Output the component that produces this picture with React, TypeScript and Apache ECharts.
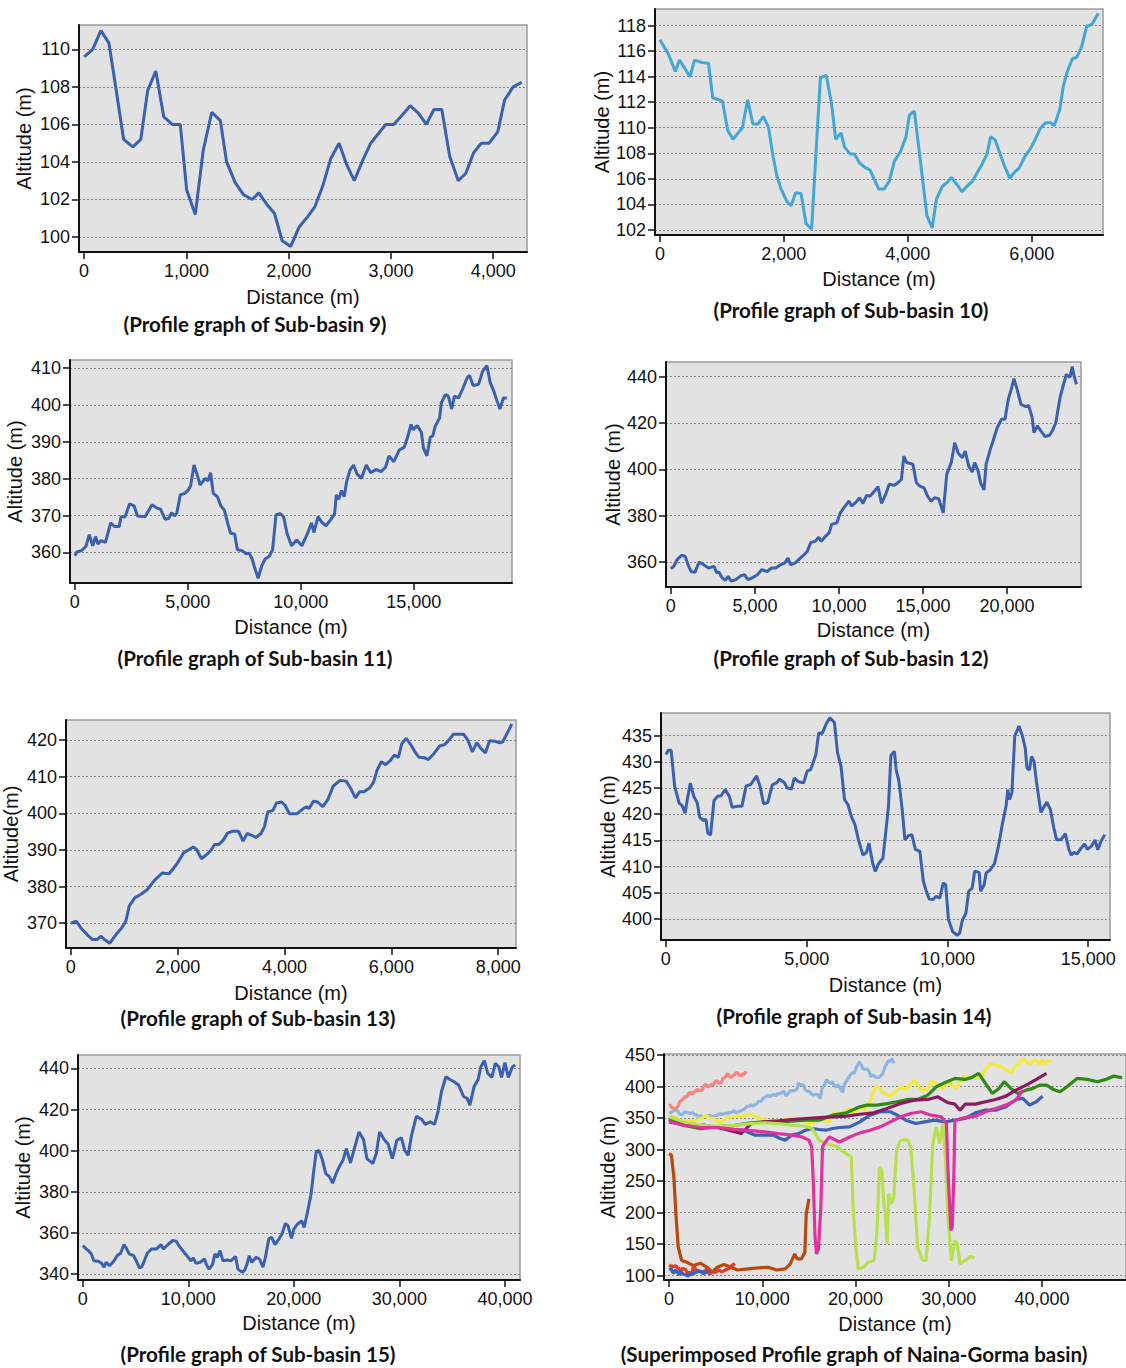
import React, { useEffect, useRef } from "react";
import * as echarts from "echarts";

// ---- Profile data: [distance (m), altitude (m)] ----
const sb9Profile = [
  [0, 109.6], [84, 110.0], [164, 111.0], [242, 110.35], [309, 108.0], [386, 105.2], [477, 104.8], [554, 105.2],
  [621, 107.8], [701, 108.85], [779, 106.4], [862, 106.0], [940, 106.0], [1003, 102.5], [1087, 101.2], [1164, 104.6],
  [1248, 106.65], [1332, 106.2], [1393, 104.0], [1477, 102.9], [1560, 102.25], [1644, 102.0], [1708, 102.35],
  [1785, 101.75], [1862, 101.25], [1936, 99.8], [2020, 99.5], [2104, 100.55], [2188, 101.1], [2255, 101.6],
  [2332, 102.7], [2413, 104.2], [2493, 105.0], [2564, 103.9], [2641, 103.0], [2725, 104.1], [2802, 105.0],
  [2876, 105.5], [2950, 106.0], [3027, 106.0], [3111, 106.5], [3188, 107.0], [3268, 106.6], [3346, 106.0],
  [3420, 106.8], [3497, 106.8], [3574, 104.3], [3658, 103.0], [3732, 103.4], [3809, 104.5], [3883, 105.0],
  [3960, 105.0], [4044, 105.6], [4111, 107.3], [4195, 108.0], [4279, 108.25],
];

const sb10Profile = [
  [0, 116.9], [135, 115.8], [248, 114.4], [316, 115.3], [485, 114.0], [558, 115.3], [682, 115.1], [784, 115.05],
  [852, 112.35], [1010, 112.1], [1094, 109.8], [1179, 109.1], [1331, 110.0], [1416, 112.2], [1500, 110.3],
  [1585, 110.3], [1670, 110.9], [1754, 110.0], [1827, 107.75], [1884, 106.3], [1951, 105.25], [2053, 104.2],
  [2120, 103.9], [2188, 104.9], [2278, 104.85], [2357, 102.5], [2448, 102.05], [2589, 113.9], [2685, 114.1],
  [2769, 111.9], [2837, 109.1], [2922, 109.6], [2978, 108.5], [3068, 107.95], [3136, 107.95], [3221, 107.25],
  [3322, 106.85], [3390, 106.7], [3531, 105.2], [3616, 105.2], [3700, 105.8], [3785, 107.4], [3880, 108.1],
  [3971, 109.3], [4027, 111.0], [4106, 111.3], [4208, 107.2], [4309, 103.1], [4394, 102.15], [4461, 104.4],
  [4557, 105.4], [4631, 105.7], [4704, 106.1], [4800, 105.5], [4873, 105.0], [4952, 105.4], [5042, 105.8],
  [5110, 106.4], [5206, 107.2], [5279, 107.95], [5336, 109.3], [5409, 109.05], [5505, 107.75], [5573, 106.85],
  [5646, 106.05], [5720, 106.5], [5799, 106.85], [5889, 107.75], [5985, 108.4], [6058, 109.1], [6137, 109.95],
  [6227, 110.4], [6306, 110.4], [6363, 110.15], [6453, 111.45], [6509, 113.25], [6577, 114.45], [6650, 115.35],
  [6729, 115.55], [6802, 116.3], [6887, 117.95], [6972, 118.1], [7073, 118.95],
];

const sb11Profile = [
  [0, 359.1], [91, 360.1], [290, 360.5], [488, 361.6], [640, 364.8], [793, 361.8], [915, 364.3], [1021, 362.3],
  [1159, 363.2], [1357, 362.7], [1585, 368.0], [1768, 367.0], [1966, 367.0], [2043, 369.7], [2226, 369.7],
  [2424, 373.2], [2622, 372.6], [2774, 369.9], [3110, 369.7], [3415, 372.9], [3643, 372.0], [3796, 371.7],
  [3994, 369.0], [4146, 369.2], [4284, 370.8], [4405, 369.9], [4512, 370.6], [4665, 375.6], [4863, 376.0],
  [5015, 376.9], [5122, 378.0], [5274, 383.7], [5396, 381.4], [5549, 378.3], [5777, 380.1], [5899, 379.4],
  [6006, 381.6], [6128, 376.0], [6311, 375.1], [6463, 372.6], [6616, 371.5], [6768, 367.9], [6890, 365.2],
  [7073, 365.0], [7195, 360.7], [7378, 360.5], [7607, 359.6], [7713, 359.8], [7835, 358.4], [7988, 355.3],
  [8110, 353.0], [8262, 356.2], [8415, 358.2], [8598, 358.9], [8750, 360.7], [8902, 370.2], [9085, 370.5],
  [9238, 369.7], [9390, 365.2], [9588, 361.8], [9817, 363.4], [10046, 361.8], [10274, 364.8], [10473, 368.0],
  [10579, 365.4], [10762, 369.7], [10915, 368.3], [11113, 367.2], [11311, 368.8], [11494, 370.4], [11570, 375.6],
  [11677, 374.4], [11799, 376.8], [11921, 375.1], [12027, 379.2], [12180, 382.4], [12332, 383.7], [12485, 381.3],
  [12683, 380.1], [12896, 383.7], [13095, 381.6], [13323, 382.5], [13552, 381.9], [13750, 383.1], [13902, 386.2],
  [14116, 384.6], [14360, 387.8], [14573, 388.5], [14726, 391.3], [14878, 394.7], [14970, 393.3], [15152, 394.4],
  [15335, 392.6], [15427, 388.3], [15579, 386.2], [15732, 391.3], [15838, 391.6], [15945, 394.2], [16143, 396.5],
  [16220, 400.6], [16402, 402.8], [16524, 402.4], [16677, 398.9], [16799, 402.4], [16982, 401.9], [17165, 404.4],
  [17363, 407.4], [17470, 408.0], [17622, 405.3], [17866, 405.6], [18049, 409.2], [18232, 410.7], [18384, 406.0],
  [18537, 403.8], [18659, 401.5], [18811, 398.9], [18963, 401.9], [19116, 401.9],
];

const sb12Profile = [
  [0, 357.1], [166, 358.1], [373, 361.0], [643, 362.9], [851, 362.4], [1058, 358.1], [1203, 355.9], [1432, 355.5],
  [1680, 360.0], [1950, 358.8], [2241, 357.4], [2573, 358.1], [2718, 355.5], [2863, 355.6], [3029, 353.4],
  [3237, 352.1], [3403, 353.8], [3589, 351.7], [3859, 352.4], [4170, 354.1], [4378, 354.5], [4585, 352.4],
  [4896, 353.4], [5145, 354.5], [5415, 356.7], [5726, 355.9], [5996, 357.4], [6245, 357.4], [6515, 358.8],
  [6763, 359.5], [6971, 361.7], [7116, 358.8], [7386, 359.5], [7635, 361.2], [7863, 362.7], [8112, 364.5],
  [8320, 368.4], [8589, 368.9], [8797, 370.7], [8942, 368.9], [9149, 370.7], [9419, 372.6], [9564, 376.2],
  [9876, 376.9], [10083, 381.2], [10332, 383.8], [10602, 386.3], [10747, 384.1], [11017, 385.8], [11224, 387.7],
  [11432, 385.3], [11639, 388.7], [11846, 388.4], [12116, 390.6], [12324, 392.5], [12531, 385.3], [12780, 389.2],
  [12988, 393.5], [13299, 393.1], [13506, 394.2], [13714, 395.6], [13859, 405.7], [14025, 402.9], [14398, 402.2],
  [14606, 394.2], [14813, 392.7], [15062, 392.0], [15270, 388.4], [15477, 386.3], [15685, 387.7], [15934, 387.3],
  [16203, 381.2], [16411, 397.8], [16680, 402.9], [16888, 411.5], [17095, 406.9], [17344, 405.0], [17510, 407.9],
  [17718, 401.4], [17925, 398.8], [18071, 402.9], [18278, 399.3], [18423, 394.2], [18631, 391.1], [18755, 402.2],
  [19004, 408.6], [19212, 413.3], [19419, 418.0], [19668, 421.6], [19876, 421.6], [20083, 430.5], [20249, 434.5],
  [20415, 439.1], [20622, 433.8], [20830, 428.0], [21120, 427.0], [21286, 427.6], [21494, 422.3], [21598, 415.8],
  [21805, 418.7], [22012, 416.6], [22261, 414.1], [22531, 414.7], [22697, 416.6], [22904, 420.2], [23153, 431.0],
  [23361, 436.7], [23527, 441.0], [23734, 439.6], [23880, 444.3], [23983, 440.3], [24129, 436.7],
];

const sb13Profile = [
  [0, 370.0], [103, 370.5], [193, 368.6], [309, 366.8], [405, 365.5], [489, 365.5], [566, 366.4], [631, 365.5],
  [727, 364.5], [843, 366.8], [952, 368.7], [1030, 370.5], [1094, 374.7], [1197, 376.9], [1306, 377.8],
  [1435, 379.2], [1564, 381.7], [1712, 383.7], [1840, 383.5], [1982, 386.1], [2111, 389.2], [2291, 390.8],
  [2355, 390.1], [2445, 387.6], [2548, 388.8], [2625, 389.9], [2690, 391.5], [2773, 391.5], [2850, 392.6],
  [2934, 394.6], [3024, 395.1], [3140, 395.1], [3224, 392.4], [3301, 394.5], [3385, 394.0], [3462, 393.4],
  [3559, 394.5], [3623, 396.3], [3687, 400.4], [3784, 400.8], [3848, 402.8], [3945, 403.1], [4009, 402.2],
  [4093, 399.9], [4234, 399.9], [4350, 401.3], [4415, 401.8], [4460, 401.3], [4543, 403.3], [4621, 403.1],
  [4717, 401.8], [4814, 403.8], [4910, 407.4], [5039, 409.0], [5154, 408.8], [5251, 406.5], [5328, 404.2],
  [5405, 405.9], [5489, 405.9], [5598, 407.0], [5669, 408.6], [5733, 411.8], [5811, 414.1], [5894, 413.3],
  [5972, 414.3], [6055, 415.9], [6132, 415.3], [6197, 419.1], [6280, 420.5], [6370, 418.6], [6454, 416.5],
  [6518, 415.3], [6615, 415.2], [6692, 414.7], [6795, 416.3], [6904, 418.4], [7000, 418.8], [7065, 419.8],
  [7161, 421.6], [7355, 421.6], [7432, 420.0], [7515, 416.8], [7599, 419.3], [7676, 417.7], [7760, 416.5],
  [7838, 419.8], [7934, 419.7], [8018, 419.3], [8082, 419.5], [8172, 422.0], [8256, 424.4],
];

const sb14Profile = [
  [0, 431.4], [87, 432.2], [186, 432.2], [310, 425.4], [471, 422.1], [582, 421.6], [682, 420.2], [781, 423.4],
  [868, 425.9], [992, 423.4], [1116, 422.1], [1202, 419.4], [1326, 418.8], [1425, 419.0], [1487, 416.4],
  [1586, 416.0], [1710, 422.6], [1834, 423.4], [1958, 423.5], [2107, 424.7], [2256, 423.4], [2355, 421.3],
  [2541, 421.5], [2702, 421.5], [2851, 425.4], [3000, 425.6], [3098, 426.3], [3222, 427.3], [3346, 425.3],
  [3470, 422.0], [3619, 422.2], [3780, 425.6], [3941, 426.0], [4028, 426.7], [4213, 426.0], [4312, 425.0],
  [4461, 424.8], [4560, 426.9], [4709, 426.2], [4895, 426.0], [5019, 428.2], [5143, 428.5], [5329, 431.4],
  [5428, 435.5], [5552, 435.4], [5701, 437.3], [5825, 438.4], [5986, 437.5], [6097, 431.7], [6221, 429.1],
  [6345, 422.8], [6469, 421.8], [6593, 419.5], [6717, 418.0], [6840, 415.1], [7001, 412.2], [7125, 412.7],
  [7212, 414.5], [7348, 410.6], [7435, 409.1], [7559, 410.6], [7708, 411.6], [7807, 416.4], [7906, 421.5],
  [7993, 431.2], [8117, 432.0], [8179, 428.5], [8278, 426.3], [8402, 420.5], [8489, 415.1], [8613, 415.9],
  [8737, 416.1], [8861, 413.3], [9022, 412.9], [9145, 407.2], [9232, 405.6], [9356, 403.8], [9480, 403.7],
  [9604, 404.3], [9728, 404.0], [9852, 406.9], [9938, 406.5], [10037, 399.9], [10186, 397.6], [10347, 396.9],
  [10434, 397.3], [10533, 399.8], [10657, 401.1], [10756, 405.3], [10880, 405.9], [10967, 409.1], [11128, 408.9],
  [11178, 405.3], [11302, 406.5], [11376, 408.8], [11525, 409.4], [11673, 410.6], [11810, 413.8], [11958, 418.3],
  [12082, 421.5], [12144, 424.7], [12206, 422.8], [12293, 424.2], [12392, 434.9], [12541, 436.8], [12665, 434.9],
  [12764, 432.6], [12826, 428.8], [12913, 428.4], [12987, 431.0], [13074, 430.1], [13160, 426.3], [13321, 420.3],
  [13408, 421.2], [13532, 422.3], [13656, 420.9], [13780, 417.4], [13879, 415.1], [14028, 415.1], [14189, 416.3],
  [14312, 413.3], [14399, 412.2], [14498, 412.7], [14597, 412.4], [14746, 413.5], [14870, 414.3], [14969, 413.3],
  [15118, 413.9], [15242, 415.1], [15341, 413.2], [15452, 414.8], [15589, 416.1],
];

const sb15Profile = [
  [0, 353.8], [325, 352.2], [585, 351.1], [813, 349.8], [1041, 346.5], [1463, 346.2], [1789, 345.2], [2016, 343.3],
  [2211, 345.7], [2537, 344.1], [2927, 346.2], [3252, 348.9], [3577, 350.1], [3902, 354.3], [4163, 352.2],
  [4390, 349.8], [4813, 348.9], [5138, 345.7], [5366, 342.9], [5593, 343.6], [5853, 346.8], [6114, 350.1],
  [6504, 352.2], [6992, 352.2], [7415, 354.3], [7642, 352.2], [8130, 354.6], [8520, 356.3], [8846, 356.0],
  [9171, 353.3], [9593, 350.6], [9919, 348.5], [10244, 346.5], [10472, 347.8], [10732, 345.2], [11122, 345.7],
  [11545, 347.3], [11707, 344.6], [11967, 342.4], [12293, 344.6], [12520, 349.8], [12748, 348.1], [13008, 351.4],
  [13268, 346.5], [13659, 346.8], [14049, 346.5], [14472, 348.5], [14699, 342.4], [15122, 340.8], [15350, 342.0],
  [15545, 344.6], [15772, 348.9], [16000, 345.7], [16423, 348.1], [16748, 347.3], [17073, 343.3], [17301, 348.1],
  [17626, 357.1], [17886, 357.9], [18211, 354.3], [18602, 357.1], [18927, 360.2], [19187, 364.6], [19447, 363.4],
  [19772, 357.4], [20000, 361.8], [20325, 364.2], [20748, 365.9], [20976, 362.6], [21301, 370.4], [21626, 378.7],
  [21854, 388.8], [22114, 399.4], [22374, 400.2], [22699, 395.6], [23024, 388.8], [23350, 387.5], [23675, 384.2],
  [24000, 388.8], [24325, 392.4], [24650, 395.3], [24976, 401.0], [25366, 394.0], [25691, 400.2], [26179, 409.1],
  [26602, 405.4], [26927, 396.1], [27480, 393.7], [27805, 398.5], [28130, 409.1], [28553, 405.4], [28943, 403.1],
  [29333, 396.1], [29756, 405.0], [30179, 406.3], [30504, 400.2], [30829, 397.7], [31154, 407.5], [31610, 416.7],
  [32130, 415.1], [32455, 412.8], [32911, 414.0], [33333, 412.8], [33659, 418.9], [33984, 428.6], [34407, 435.9],
  [34797, 434.6], [35187, 433.5], [35610, 431.9], [36098, 426.2], [36423, 425.4], [36683, 422.1], [37073, 431.1],
  [37463, 434.6], [37724, 440.8], [38049, 443.7], [38374, 437.6], [38764, 435.6], [39089, 442.4], [39415, 440.8],
  [39675, 435.6], [40000, 442.8], [40325, 435.6], [40715, 440.8], [40976, 441.6],
];

// Further basin profiles that only appear in the superimposed graph
const basinBlueProfile = [
  [0, 347.7], [983, 341], [2257, 337], [3713, 339], [5169, 335], [6625, 332], [8081, 330], [9173, 323],
  [10266, 323], [11176, 323], [11904, 317.5], [12450, 315], [13178, 323], [13906, 325.4], [14634, 330.7],
  [15362, 333.4], [16090, 331.8], [16818, 330.7], [17546, 333.4], [18274, 335], [19366, 336], [20458, 344],
  [21550, 354.6], [22643, 360], [23735, 360], [24463, 354.6], [25373, 346.6], [26465, 341.3], [27376, 344],
  [28468, 346.6], [29560, 344], [30652, 346.6], [31744, 349.3], [32836, 358.3], [33928, 362.5], [35020, 362.5],
  [36112, 367.8], [37204, 379.5], [37932, 381.1], [38660, 370.5], [39388, 375.8], [40044, 384.8],
];

const basinGreenProfile = [
  [0, 349], [1529, 338.6], [3349, 333], [5169, 336], [6990, 338.6], [8810, 342.4], [10266, 344], [11722, 344],
  [13178, 345], [14634, 346.6], [16090, 346.6], [17546, 354.6], [19003, 358.3], [20458, 367.8], [21187, 370.5],
  [22279, 370.5], [23371, 373], [24463, 375.8], [25555, 379.5], [26647, 379.5], [27739, 386.4], [28650, 399.6],
  [29560, 406], [30652, 412.9], [31744, 411.3], [32472, 414.5], [33200, 420.8], [33928, 405], [34656, 389],
  [35384, 397], [35930, 407.6], [36658, 397], [37386, 389], [38296, 394.3], [39024, 397], [39752, 402.3],
  [40480, 402.3], [41208, 395.4], [41936, 391.7], [42665, 399.6], [43757, 412.9], [44849, 411.3], [45941, 407.6],
  [46851, 411.3], [47690, 416.6], [48600, 414],
];

const basinMaroonProfile = [
  [0, 344], [1529, 340], [3349, 335], [5169, 335], [6625, 330], [7718, 325.4], [8810, 341], [10266, 344],
  [11722, 345.5], [13178, 347.7], [14634, 349.3], [16090, 350.8], [17546, 352], [19003, 353], [20458, 356],
  [21914, 358.3], [23371, 365.2], [24827, 373], [26283, 378.4], [27739, 379.5], [28832, 383.7], [29924, 374.2],
  [30652, 372], [31198, 362.5], [31744, 372], [32836, 372], [33928, 375.8], [35020, 379.5], [36112, 384.8],
  [37204, 394.3], [38296, 402.3], [39388, 411.3], [40480, 420.8],
];

const basinMagentaProfile = [
  [0, 344.6], [1529, 338.6], [3349, 335], [5169, 335], [6990, 332], [8810, 330], [10266, 328], [11722, 325.4],
  [13178, 323], [14270, 320], [14999, 315], [15290, 304], [15472, 246], [15654, 161], [15800, 134.5],
  [16018, 142.5], [16273, 208.7], [16455, 304], [16637, 309.5], [17183, 320], [18274, 312], [19366, 320],
  [20458, 326.5], [21550, 330.7], [22643, 336], [23735, 344], [24827, 352], [25919, 357.2], [27011, 360],
  [28103, 354.6], [29195, 352], [29742, 341.3], [29924, 261.8], [30215, 171.6], [30361, 177], [30543, 261.8],
  [30652, 346.6], [31744, 350.8], [32836, 353], [33928, 360], [35020, 365.2], [36112, 370.5], [37204, 378.4],
  [37932, 394.3],
];

const basinLimeProfile = [
  [0, 352], [1529, 344], [3349, 338.6], [5169, 337], [6990, 338.6], [8810, 341.3], [10266, 342.4], [11722, 341.3],
  [13178, 338.6], [14634, 337], [15362, 333.4], [16090, 314.8], [16818, 309.5], [17910, 305.3], [19003, 293.6],
  [19548, 288.3], [19731, 208.7], [20022, 145], [20276, 110.7], [20822, 113.3], [21368, 121.3], [21987, 124],
  [22279, 166.3], [22570, 272.4], [22824, 267], [23007, 219.4], [23189, 198], [23371, 150.4], [23553, 230],
  [23808, 214], [24099, 224.7], [24390, 298.6], [24827, 314.8], [25555, 315.9], [25919, 304], [26283, 235.3],
  [26647, 145], [27193, 124], [27557, 124], [27921, 193], [28285, 309.5], [28650, 336], [29014, 309.5],
  [29378, 341.3], [29633, 288.3], [29924, 187.5], [30288, 124], [30652, 155.7], [30907, 150.4], [31198, 118.6],
  [31744, 124], [32290, 130.3], [32763, 128.2],
];

const basinBrownProfile = [
  [0, 293.6], [255, 291], [510, 256.5], [728, 198], [983, 145], [1347, 124], [1893, 121.3], [2621, 116],
  [3349, 119.7], [4077, 113.3], [4623, 105.4], [5169, 113.3], [5897, 117.6], [6625, 113.3], [7353, 109],
  [8446, 110.7], [9538, 112.3], [10630, 113.3], [11540, 109], [12450, 110.7], [12996, 118.6], [13469, 134.5],
  [13724, 126.6], [14197, 126.6], [14561, 137], [14707, 198], [15000, 222],
];

// ---- Tick values ----
const sb9AltTicks = [100, 102, 104, 106, 108, 110];
const sb9DistTicks = [0, 1000, 2000, 3000, 4000];
const sb10AltTicks = [102, 104, 106, 108, 110, 112, 114, 116, 118];
const sb10DistTicks = [0, 2000, 4000, 6000];
const sb11AltTicks = [360, 370, 380, 390, 400, 410];
const sb11DistTicks = [0, 5000, 10000, 15000];
const sb12AltTicks = [360, 380, 400, 420, 440];
const sb12DistTicks = [0, 5000, 10000, 15000, 20000];
const sb13AltTicks = [370, 380, 390, 400, 410, 420];
const sb13DistTicks = [0, 2000, 4000, 6000, 8000];
const sb14AltTicks = [400, 405, 410, 415, 420, 425, 430, 435];
const sb14DistTicks = [0, 5000, 10000, 15000];
const sb15AltTicks = [340, 360, 380, 400, 420, 440];
const sb15DistTicks = [0, 10000, 20000, 30000, 40000];
const basinAltTicks = [100, 150, 200, 250, 300, 350, 400, 450];
const basinDistTicks = [0, 10000, 20000, 30000, 40000];

const LABEL_FONT = '"Liberation Sans", Arial, Helvetica, sans-serif';
const TITLE_FONT = 'Lato, "Open Sans", sans-serif';
const BLUE = "#3a60b2";

type Line = { name: string; data: number[][]; color: string };

type Panel = {
  grid: { left: number; top: number; width: number; height: number };
  xRange: [number, number];
  yRange: [number, number];
  xTicks: number[];
  yTicks: number[];
  yName: string;
  yNameGap: number;
  xNameGap: number;
  title: string;
  titleX: number;
  titleY: number;
  lines: Line[];
};

const panels: Panel[] = [
  {
    grid: { left: 79, top: 25, width: 448, height: 227 },
    xRange: [-50, 4330], yRange: [99.2, 111.3],
    xTicks: sb9DistTicks, yTicks: sb9AltTicks,
    yName: "Altitude (m)", yNameGap: 45, xNameGap: 35,
    title: "(Profile graph of Sub-basin 9)", titleX: 255, titleY: 324,
    lines: [{ name: "Sub-basin 9", data: sb9Profile, color: BLUE }],
  },
  {
    grid: { left: 655, top: 9, width: 448, height: 226 },
    xRange: [-79, 7150], yRange: [101.6, 119.3],
    xTicks: sb10DistTicks, yTicks: sb10AltTicks,
    yName: "Altitude (m)", yNameGap: 43, xNameGap: 34,
    title: "(Profile graph of Sub-basin 10)", titleX: 851, titleY: 310,
    lines: [{ name: "Sub-basin 10", data: sb10Profile, color: "#42a6d8" }],
  },
  {
    grid: { left: 70, top: 360, width: 442, height: 223 },
    xRange: [-213, 19345], yRange: [351.7, 412.2],
    xTicks: sb11DistTicks, yTicks: sb11AltTicks,
    yName: "Altitude (m)", yNameGap: 45, xNameGap: 34,
    title: "(Profile graph of Sub-basin 11)", titleX: 255, titleY: 658,
    lines: [{ name: "Sub-basin 11", data: sb11Profile, color: BLUE }],
  },
  {
    grid: { left: 666, top: 362, width: 415, height: 225 },
    xRange: [-290, 24400], yRange: [349.2, 446.3],
    xTicks: sb12DistTicks, yTicks: sb12AltTicks,
    yName: "Altitude (m)", yNameGap: 41, xNameGap: 33,
    title: "(Profile graph of Sub-basin 12)", titleX: 851, titleY: 658,
    lines: [{ name: "Sub-basin 12", data: sb12Profile, color: BLUE }],
  },
  {
    grid: { left: 65, top: 720, width: 451, height: 228 },
    xRange: [-90, 8333], yRange: [363.2, 425.5],
    xTicks: sb13DistTicks, yTicks: sb13AltTicks,
    yName: "Altitude(m)", yNameGap: 45, xNameGap: 35,
    title: "(Profile graph of Sub-basin 13)", titleX: 258, titleY: 1018,
    lines: [{ name: "Sub-basin 13", data: sb13Profile, color: BLUE }],
  },
  {
    grid: { left: 661, top: 713, width: 449, height: 227 },
    xRange: [-173, 15775], yRange: [396.0, 439.3],
    xTicks: sb14DistTicks, yTicks: sb14AltTicks,
    yName: "Altitude (m)", yNameGap: 43, xNameGap: 35,
    title: "(Profile graph of Sub-basin 14)", titleX: 854, titleY: 1016,
    lines: [{ name: "Sub-basin 14", data: sb14Profile, color: BLUE }],
  },
  {
    grid: { left: 78, top: 1055, width: 442, height: 225 },
    xRange: [-455, 41430], yRange: [337.1, 446.5],
    xTicks: sb15DistTicks, yTicks: sb15AltTicks,
    yName: "Altitude (m)", yNameGap: 45, xNameGap: 33,
    title: "(Profile graph of Sub-basin 15)", titleX: 258, titleY: 1354,
    lines: [{ name: "Sub-basin 15", data: sb15Profile, color: BLUE }],
  },
  {
    grid: { left: 664, top: 1054, width: 476, height: 226 },
    xRange: [-546, 49000], yRange: [93.1, 451.6],
    xTicks: basinDistTicks, yTicks: basinAltTicks,
    yName: "Altitude (m)", yNameGap: 46, xNameGap: 34,
    title: "(Superimposed Profile graph of Naina-Gorma basin)", titleX: 854, titleY: 1354,
    lines: [
      { name: "Basin blue", data: basinBlueProfile, color: "#3a62b8" },
      { name: "Sub-basin 12", data: sb12Profile, color: "#8eb4e1" },
      { name: "Sub-basin 13", data: sb13Profile, color: "#f6857c" },
      { name: "Sub-basin 15", data: sb15Profile, color: "#f3e93a" },
      { name: "Basin green", data: basinGreenProfile, color: "#2f8a18" },
      { name: "Basin maroon", data: basinMaroonProfile, color: "#8c1a5e" },
      { name: "Basin lime", data: basinLimeProfile, color: "#b6e14c" },
      { name: "Basin magenta", data: basinMagentaProfile, color: "#e0329c" },
      { name: "Basin brown", data: basinBrownProfile, color: "#b8480b" },
      { name: "Sub-basin 10", data: sb10Profile, color: "#e6392b" },
      { name: "Sub-basin 9", data: sb9Profile, color: "#3a62b8" },
    ],
  },
];

const fmt = (v: number) => v.toLocaleString("en-US");

function buildOption() {
  const grid: any[] = [];
  const xAxis: any[] = [];
  const yAxis: any[] = [];
  const series: any[] = [];
  const graphic: any[] = [];

  panels.forEach((p, i) => {
    grid.push({
      ...p.grid,
      show: true,
      backgroundColor: "#e2e2e2",
      borderColor: "#9c9c9c",
      borderWidth: 1.5,
      containLabel: false,
    });
    xAxis.push({
      type: "value",
      gridIndex: i,
      min: p.xRange[0],
      max: p.xRange[1],
      name: "Distance (m)",
      nameLocation: "middle",
      nameGap: p.xNameGap,
      nameTextStyle: { fontFamily: LABEL_FONT, fontSize: 20, color: "#111" },
      axisLine: { show: true, onZero: false, lineStyle: { color: "#111", width: 2 } },
      axisTick: { show: true, customValues: p.xTicks, length: 7, lineStyle: { color: "#111", width: 1.5 } },
      axisLabel: {
        show: true, customValues: p.xTicks, formatter: fmt, margin: 10,
        fontFamily: LABEL_FONT, fontSize: 18, color: "#111",
      },
      splitLine: { show: false },
    });
    yAxis.push({
      type: "value",
      gridIndex: i,
      min: p.yRange[0],
      max: p.yRange[1],
      name: p.yName,
      nameLocation: "middle",
      nameGap: p.yNameGap,
      nameTextStyle: { fontFamily: LABEL_FONT, fontSize: 20, color: "#111" },
      axisLine: { show: true, onZero: false, lineStyle: { color: "#111", width: 2 } },
      axisTick: { show: true, customValues: p.yTicks, length: 7, lineStyle: { color: "#111", width: 1.5 } },
      axisLabel: {
        show: true, customValues: p.yTicks, formatter: fmt, margin: 9,
        fontFamily: LABEL_FONT, fontSize: 18, color: "#111",
      },
      splitLine: { show: true, lineStyle: { color: "#858585", width: 1, type: [2, 2] } },
    });
    p.lines.forEach((ln) => {
      series.push({
        type: "line",
        name: ln.name,
        xAxisIndex: i,
        yAxisIndex: i,
        data: ln.data,
        showSymbol: false,
        symbol: "none",
        smooth: false,
        clip: true,
        lineStyle: { color: ln.color, width: i === 7 ? 3.2 : 3 },
        itemStyle: { color: ln.color },
        z: 3,
      });
    });
    graphic.push({
      type: "text",
      x: p.titleX,
      y: p.titleY,
      style: {
        text: p.title,
        font: `bold 20.5px ${TITLE_FONT}`,
        fill: "#111",
        textAlign: "center",
        textVerticalAlign: "middle",
      },
    });
  });

  return {
    animation: false,
    backgroundColor: "#ffffff",
    grid,
    xAxis,
    yAxis,
    series,
    graphic,
  };
}

export default function App() {
  const ref = useRef<HTMLDivElement>(null);
  useEffect(() => {
    if (!ref.current) return;
    const chart = echarts.init(ref.current, undefined, { renderer: "svg" });
    chart.setOption(buildOption());
    return () => chart.dispose();
  }, []);
  return (
    <div
      ref={ref}
      style={{ position: "absolute", left: 0, top: 0, width: 1126, height: 1368, background: "#fff" }}
    />
  );
}
